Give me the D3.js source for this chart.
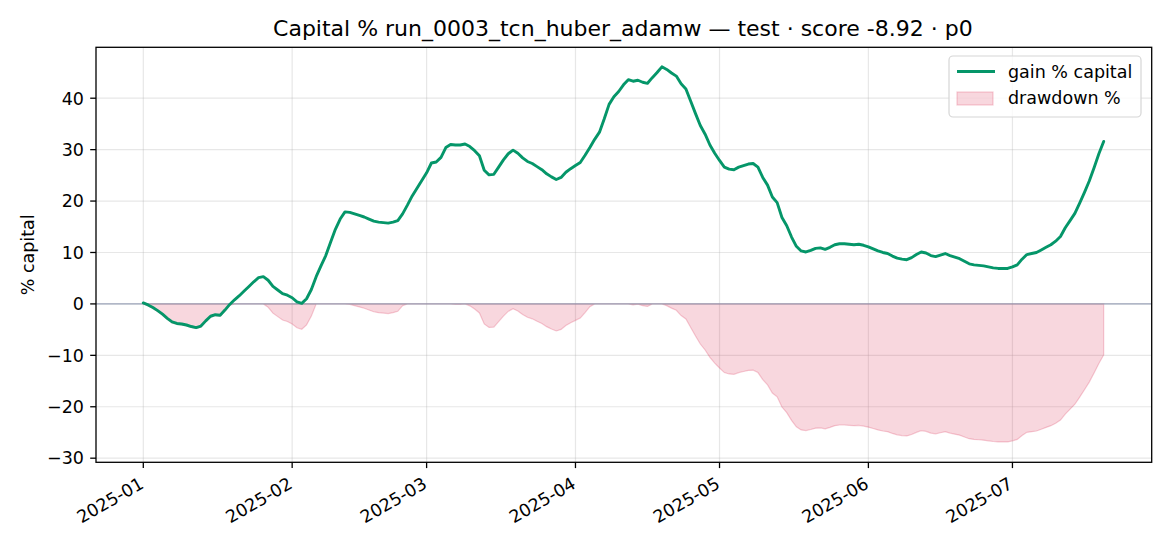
<!DOCTYPE html>
<html>
<head>
<meta charset="utf-8">
<script src="https://cdn.jsdelivr.net/npm/d3@7"></script>
<style>
  html, body { margin: 0; padding: 0; background: #fff; }
  svg { display: block; font-family: "DejaVu Sans", sans-serif; }
</style>
</head>
<body>
<svg id="chart" width="1170" height="546"></svg>
<script>
// ---- data (daily, 2025-01-01 .. 2025-07-20) ----
const startDate = "2025-01-01";
const endDate = "2025-07-20";

const gainPct = [
  0.2, -0.2, -0.7, -1.3, -2.0, -2.8, -3.5, -3.8, -3.9, -4.1,
  -4.4, -4.6, -4.3, -3.3, -2.4, -2.1, -2.2, -1.2, -0.1, 0.8,
  1.6, 2.5, 3.4, 4.3, 5.1, 5.3, 4.6, 3.4, 2.7, 2.0,
  1.7, 1.2, 0.4, 0.1, 1.0, 2.8, 5.3, 7.4, 9.4, 12.0,
  14.5, 16.5, 17.9, 17.8, 17.5, 17.2, 16.9, 16.5, 16.1, 15.9,
  15.8, 15.7, 15.9, 16.2, 17.5, 19.2, 21.0, 22.5, 24.0, 25.5,
  27.4, 27.6, 28.5, 30.4, 31.0, 30.9, 30.9, 31.1, 30.6, 29.8,
  28.8, 26.0, 25.1, 25.2, 26.6, 28.0, 29.2, 29.9, 29.3, 28.4,
  27.7, 27.3, 26.7, 26.1, 25.3, 24.7, 24.2, 24.6, 25.6, 26.3,
  26.9, 27.5, 28.9, 30.4, 32.0, 33.4, 36.0, 38.8, 40.3, 41.3,
  42.6, 43.6, 43.3, 43.5, 43.1, 42.9, 44.0, 45.0, 46.1, 45.6,
  44.9, 44.3, 42.8, 41.8, 39.4, 37.0, 34.7, 33.0, 30.9, 29.3,
  27.9, 26.6, 26.2, 26.1, 26.6, 26.9, 27.2, 27.3, 26.6, 24.6,
  23.1, 20.8, 19.7, 16.8, 15.2, 13.0, 11.2, 10.3, 10.1, 10.4,
  10.8, 10.9, 10.6, 11.0, 11.5, 11.7, 11.7, 11.6, 11.5, 11.6,
  11.4, 11.1, 10.7, 10.3, 10.0, 9.8, 9.3, 8.9, 8.7, 8.6,
  9.0, 9.6, 10.1, 9.9, 9.4, 9.2, 9.5, 9.8, 9.4, 9.1,
  8.8, 8.3, 7.8, 7.6, 7.5, 7.4, 7.2, 7.0, 6.9, 6.9,
  6.9, 7.2, 7.6, 8.7, 9.6, 9.8, 10.0, 10.5, 11.0, 11.5,
  12.2, 13.1, 14.8, 16.2, 17.6, 19.6, 21.7, 23.9, 26.5, 29.2,
  31.6
];

const drawdownPct = [
  0, -0.40, -0.90, -1.50, -2.20, -2.99, -3.69, -3.99, -4.09, -4.29,
  -4.59, -4.79, -4.49, -3.49, -2.59, -2.30, -2.40, -1.40, -0.30, 0,
  0, 0, 0, 0, 0, 0, -0.66, -1.80, -2.47, -3.13,
  -3.42, -3.89, -4.65, -4.94, -4.08, -2.37, 0, 0, 0, 0,
  0, 0, 0, -0.08, -0.34, -0.59, -0.85, -1.19, -1.53, -1.70,
  -1.78, -1.87, -1.70, -1.44, -0.34, 0, 0, 0, 0, 0,
  0, 0, 0, 0, 0, -0.08, -0.08, 0, -0.38, -0.99,
  -1.75, -3.89, -4.58, -4.50, -3.43, -2.36, -1.45, -0.92, -1.37, -2.06,
  -2.59, -2.90, -3.36, -3.81, -4.42, -4.88, -5.26, -4.96, -4.20, -3.66,
  -3.20, -2.75, -1.68, -0.53, 0, 0, 0, 0, 0, 0,
  0, 0, -0.21, -0.07, -0.35, -0.49, 0, 0, 0, -0.34,
  -0.82, -1.23, -2.26, -2.94, -4.59, -6.23, -7.80, -8.96, -10.40, -11.50,
  -12.46, -13.35, -13.62, -13.69, -13.35, -13.14, -12.94, -12.87, -13.35, -14.72,
  -15.74, -17.32, -18.07, -20.05, -21.15, -22.66, -23.89, -24.50, -24.64, -24.43,
  -24.16, -24.09, -24.30, -24.02, -23.68, -23.55, -23.55, -23.61, -23.68, -23.61,
  -23.75, -23.96, -24.23, -24.50, -24.71, -24.85, -25.19, -25.46, -25.60, -25.67,
  -25.39, -24.98, -24.64, -24.78, -25.12, -25.26, -25.05, -24.85, -25.12, -25.33,
  -25.53, -25.87, -26.21, -26.35, -26.42, -26.49, -26.63, -26.76, -26.83, -26.83,
  -26.83, -26.63, -26.35, -25.60, -24.98, -24.85, -24.71, -24.37, -24.02, -23.68,
  -23.20, -22.59, -21.42, -20.47, -19.51, -18.14, -16.70, -15.20, -13.42, -11.57,
  -9.92
];

const yTicks = [-30, -20, -10, 0, 10, 20, 30, 40];
const xTickLabels = ["2025-01", "2025-02", "2025-03", "2025-04", "2025-05", "2025-06", "2025-07"];
const titleText = "Capital % run_0003_tcn_huber_adamw \u2014 test \u00b7 score -8.92 \u00b7 p0";
const yLabelText = "% capital";
const legendLabels = ["gain % capital", "drawdown %"];

// ---- layout ----
const plot = { left: 96, right: 1151.7, top: 47.3, bottom: 462.3 };
const yLimits = [-30.8, 49.9];
const padDaysLeft = 9.85, padDaysRight = 10.0;

const parse = d3.utcParse("%Y-%m-%d");
const dates = d3.utcDay.range(parse(startDate), d3.utcDay.offset(parse(endDate), 1));
const data = dates.map((d, i) => ({ date: d, gain: gainPct[i], dd: drawdownPct[i] }));

const DAY = 864e5;
const x = d3.scaleUtc()
  .domain([new Date(dates[0].getTime() - padDaysLeft * DAY),
           new Date(dates[dates.length - 1].getTime() + padDaysRight * DAY)])
  .range([plot.left, plot.right]);
const y = d3.scaleLinear().domain(yLimits).range([plot.bottom, plot.top]);

const svg = d3.select("#chart");
const green = "#059669";
const pink = "#dc375a";

// clip
svg.append("defs").append("clipPath").attr("id", "clip")
  .append("rect").attr("x", plot.left).attr("y", plot.top)
  .attr("width", plot.right - plot.left).attr("height", plot.bottom - plot.top);

// grid
const xTickDates = xTickLabels.map(s => d3.utcParse("%Y-%m")(s));
const grid = svg.append("g");
grid.selectAll(".gx").data(xTickDates).join("line")
  .attr("x1", d => x(d)).attr("x2", d => x(d))
  .attr("y1", plot.top).attr("y2", plot.bottom)
  .attr("stroke", "#b0b0b0").attr("stroke-opacity", 0.3).attr("stroke-width", 1.2);
grid.selectAll(".gy").data(yTicks).join("line")
  .attr("x1", plot.left).attr("x2", plot.right)
  .attr("y1", d => y(d)).attr("y2", d => y(d))
  .attr("stroke", "#b0b0b0").attr("stroke-opacity", 0.3).attr("stroke-width", 1.2);

const body = svg.append("g").attr("clip-path", "url(#clip)");

// drawdown fill
const area = d3.area().x(d => x(d.date)).y0(y(0)).y1(d => y(d.dd));
body.append("path").datum(data)
  .attr("d", area)
  .attr("fill", pink).attr("fill-opacity", 0.2)
  .attr("stroke", pink).attr("stroke-opacity", 0.25).attr("stroke-width", 1.2);

// zero line
body.append("line")
  .attr("x1", plot.left).attr("x2", plot.right)
  .attr("y1", y(0)).attr("y2", y(0))
  .attr("stroke", "#8e98b0").attr("stroke-opacity", 0.85).attr("stroke-width", 1.3);

// gain line
const line = d3.line().x(d => x(d.date)).y(d => y(d.gain));
body.append("path").datum(data)
  .attr("d", line)
  .attr("fill", "none").attr("stroke", green)
  .attr("stroke-width", 2.9).attr("stroke-linejoin", "round").attr("stroke-linecap", "round");

// spines
svg.append("rect")
  .attr("x", plot.left).attr("y", plot.top)
  .attr("width", plot.right - plot.left).attr("height", plot.bottom - plot.top)
  .attr("fill", "none").attr("stroke", "#000").attr("stroke-width", 1.3);

// y axis ticks
const fontPx = 17.5;
const yAx = svg.append("g");
yAx.selectAll("line").data(yTicks).join("line")
  .attr("x1", plot.left - 5.8).attr("x2", plot.left)
  .attr("y1", d => y(d)).attr("y2", d => y(d))
  .attr("stroke", "#000").attr("stroke-width", 1.3);
yAx.selectAll("text").data(yTicks).join("text")
  .attr("x", plot.left - 12).attr("y", d => y(d))
  .attr("dy", "0.36em")
  .attr("text-anchor", "end").attr("font-size", fontPx).attr("fill", "#000")
  .text(d => d < 0 ? "\u2212" + Math.abs(d) : String(d));

// x axis ticks
const xAx = svg.append("g");
xAx.selectAll("line").data(xTickDates).join("line")
  .attr("x1", d => x(d)).attr("x2", d => x(d))
  .attr("y1", plot.bottom).attr("y2", plot.bottom + 5.8)
  .attr("stroke", "#000").attr("stroke-width", 1.3);
xAx.selectAll("text").data(xTickDates).join("text")
  .attr("transform", d => `translate(${x(d) + 1.5},${plot.bottom + 25}) rotate(-30)`)
  .attr("text-anchor", "end").attr("font-size", fontPx).attr("fill", "#000")
  .text((d, i) => xTickLabels[i]);

// y label
svg.append("text")
  .attr("transform", `translate(34,${(plot.top + plot.bottom) / 2}) rotate(-90)`)
  .attr("text-anchor", "middle").attr("font-size", fontPx).attr("fill", "#000")
  .text(yLabelText);

// title
svg.append("text")
  .attr("x", (plot.left + plot.right) / 2 - 1).attr("y", 36)
  .attr("text-anchor", "middle").attr("font-size", 22).attr("fill", "#000")
  .text(titleText);

// legend
const lg = svg.append("g");
lg.append("rect")
  .attr("x", 949).attr("y", 56).attr("width", 192).attr("height", 61)
  .attr("rx", 4).attr("fill", "#fff").attr("fill-opacity", 0.8)
  .attr("stroke", "#d6d6d6").attr("stroke-width", 1.2);
lg.append("line")
  .attr("x1", 957).attr("x2", 995).attr("y1", 71.5).attr("y2", 71.5)
  .attr("stroke", green).attr("stroke-width", 2.9);
lg.append("rect")
  .attr("x", 957).attr("y", 92).attr("width", 36).attr("height", 13)
  .attr("fill", pink).attr("fill-opacity", 0.2)
  .attr("stroke", pink).attr("stroke-opacity", 0.25).attr("stroke-width", 1.2);
lg.selectAll("text").data(legendLabels).join("text")
  .attr("x", 1008).attr("y", (d, i) => 71.5 + i * 26.5)
  .attr("dy", "0.36em").attr("font-size", fontPx).attr("fill", "#000")
  .text(d => d);
</script>
</body>
</html>
